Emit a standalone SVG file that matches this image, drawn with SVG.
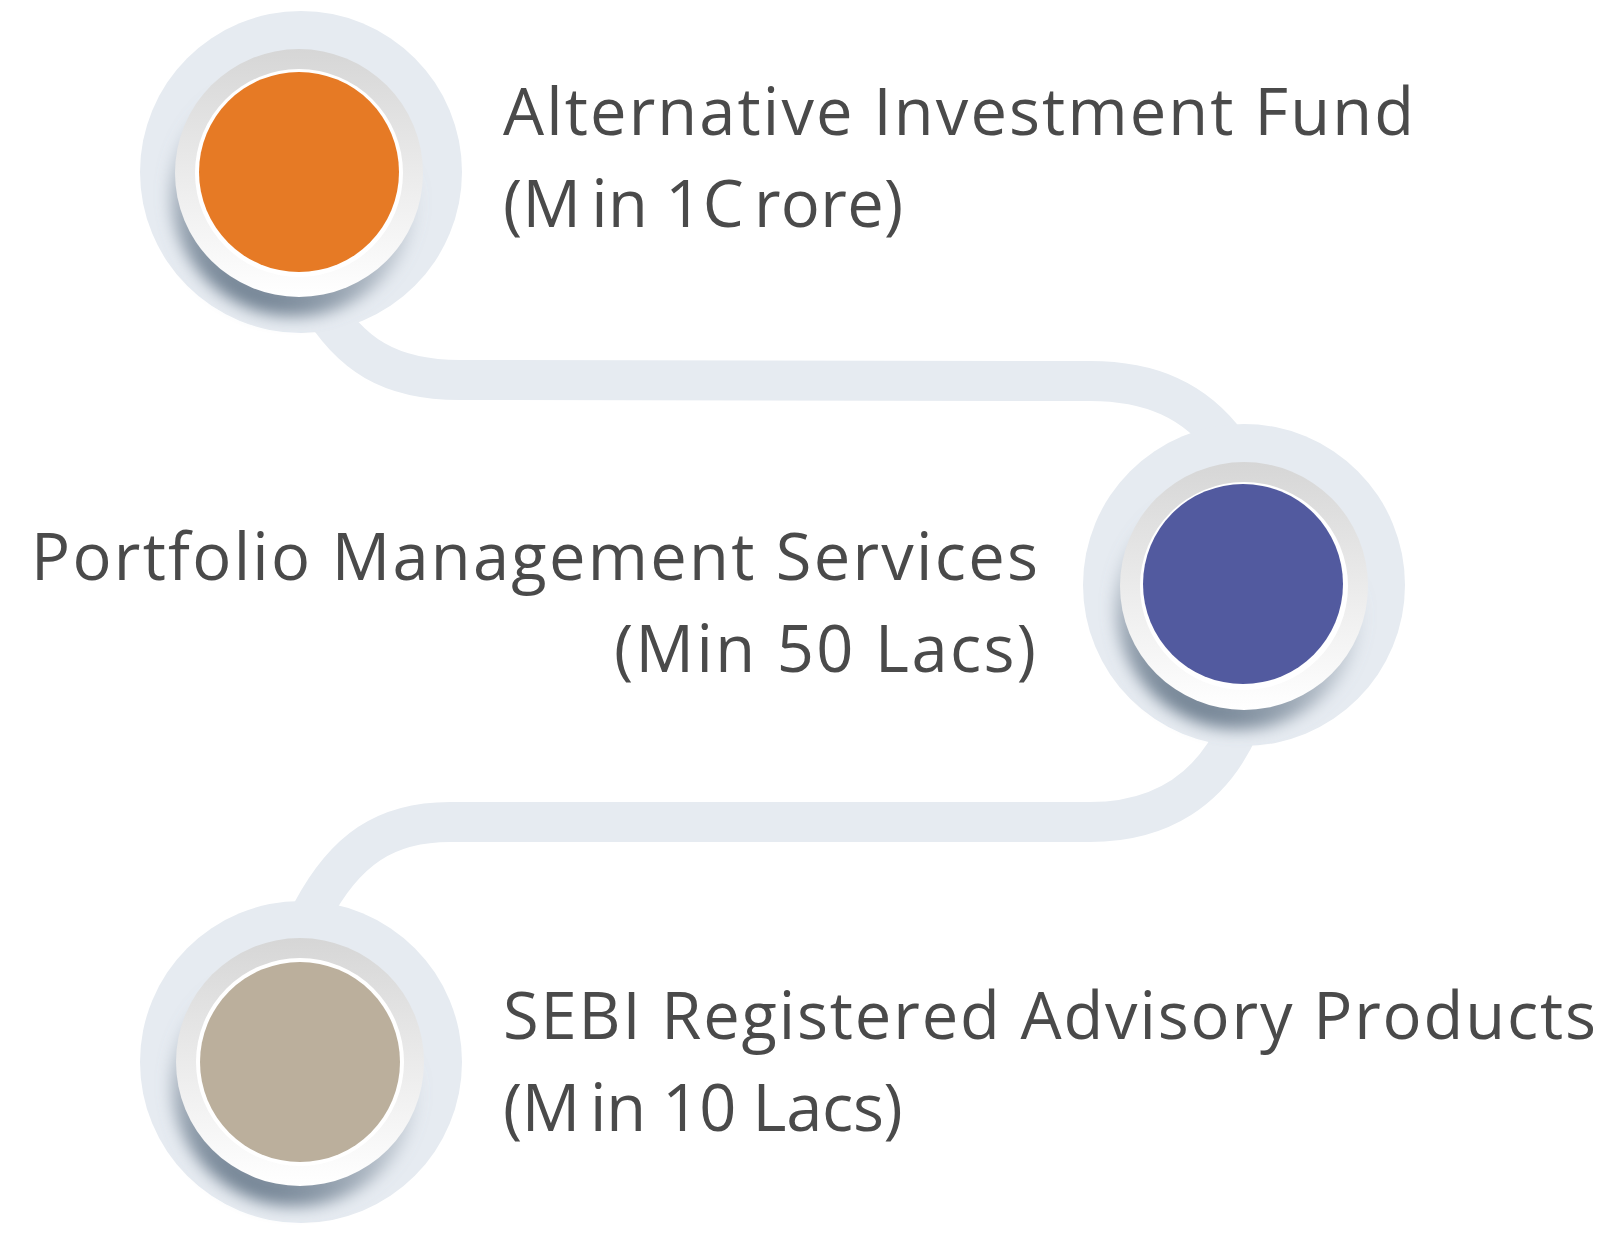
<svg xmlns="http://www.w3.org/2000/svg" width="1606" height="1233" viewBox="0 0 1606 1233">
<defs>
<style>
.band{fill:none;stroke:#e6ebf1;stroke-width:40;stroke-linecap:butt}
.halo{fill:#e6ebf1}
.shadow{fill:url(#shadowGrad);filter:url(#blur)}
.ring{fill:url(#ringGrad)}
.gap{fill:#ffffff}
.lbl{font-family:"Open Sans","Liberation Sans",sans-serif;font-size:65px;fill:#4a4a4a}
</style>
<linearGradient id="ringGrad" x1="0" y1="0" x2="0" y2="1">
<stop offset="0" stop-color="#d6d6d6"/>
<stop offset="0.6" stop-color="#efefef"/>
<stop offset="1" stop-color="#ffffff"/>
</linearGradient>
<linearGradient id="shadowGrad" x1="0.7" y1="0.25" x2="0.35" y2="1">
<stop offset="0" stop-color="#8391a0" stop-opacity="0"/>
<stop offset="0.5" stop-color="#8391a0" stop-opacity="0.45"/>
<stop offset="1" stop-color="#66788a" stop-opacity="1"/>
</linearGradient>
<filter id="blur" x="-20%" y="-20%" width="140%" height="140%">
<feGaussianBlur stdDeviation="8"/>
</filter>
</defs>
<rect width="1606" height="1233" fill="#ffffff"/>
<g id="connectors">
<path class="band" d="M 318,300 C 350,355 390,380 460,380 L 1090,381 C 1150,381 1195,400 1228,445"/>
<path class="band" d="M 1240,725 C 1212,790 1160,822 1090,822 L 450,822 C 385,822 345,850 312,912"/>
</g>
<g id="node-aif">
<circle class="halo" cx="301" cy="172" r="161"/>
<circle class="shadow" cx="294" cy="193" r="123"/>
<circle class="ring" cx="299" cy="173" r="124"/>
<circle class="gap" cx="299" cy="173" r="104"/>
<circle cx="299" cy="172" r="100" fill="#e67a25"/>
<text class="lbl" x="503" y="135" textLength="911" lengthAdjust="spacing">Alternative Investment Fund</text>
<text class="lbl" x="503" y="227" letter-spacing="0.3">(M<tspan dx="10">in 1C</tspan><tspan dx="10">rore)</tspan></text>
</g>
<g id="node-pms">
<circle class="halo" cx="1244" cy="585" r="161"/>
<circle class="shadow" cx="1239" cy="606" r="123"/>
<circle class="ring" cx="1244" cy="586" r="124"/>
<circle class="gap" cx="1244" cy="586" r="104"/>
<circle cx="1243" cy="584" r="100" fill="#525a9f"/>
<text class="lbl" x="31" y="580" textLength="1007" lengthAdjust="spacing">Portfolio Management Services</text>
<text class="lbl" x="614" y="672" textLength="422" lengthAdjust="spacing">(Min 50 Lacs)</text>
</g>
<g id="node-sebi">
<circle class="halo" cx="301" cy="1062" r="161"/>
<circle class="shadow" cx="295" cy="1083" r="123"/>
<circle class="ring" cx="300" cy="1062" r="124"/>
<circle class="gap" cx="300" cy="1062" r="104"/>
<circle cx="300" cy="1062" r="100" fill="#bbaf9c"/>
<text class="lbl" x="503" y="1039" textLength="1093" lengthAdjust="spacing">SEBI Registered Advisory Products</text>
<text class="lbl" x="503" y="1131" letter-spacing="-0.3">(M<tspan dx="10">in 10 Lacs)</tspan></text>
</g>
</svg>
